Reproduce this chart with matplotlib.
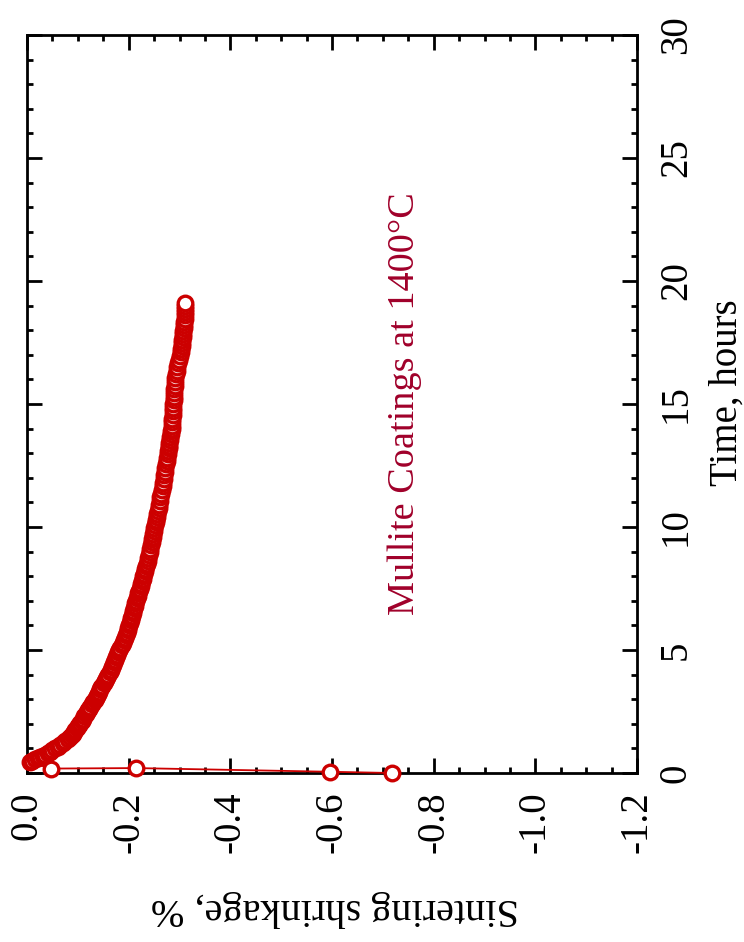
import matplotlib
matplotlib.use("Agg")
import matplotlib.pyplot as plt
from matplotlib.ticker import MultipleLocator, FixedLocator, FixedFormatter

plt.rcParams["font.family"] = ["Liberation Serif", "DejaVu Serif"]
plt.rcParams["axes.unicode_minus"] = False

RED = "#cc0000"
TEXT_RED = "#a0002a"

# time (hours) and sintering shrinkage (%)
time_h = [
    0.0, 0.05, 0.2, 0.18,
    0.45, 0.5, 0.55, 0.6, 0.65, 0.7, 0.75, 0.8, 0.85, 0.92, 1.0, 1.07,
    1.14, 1.22, 1.3, 1.38, 1.46, 1.53, 1.6, 1.68, 1.75, 1.82, 1.9, 1.97,
    2.05, 2.12, 2.2, 2.3, 2.4, 2.48, 2.55, 2.62, 2.7, 2.8, 2.9, 2.97,
    3.05, 3.12, 3.2, 3.3, 3.4, 3.48, 3.55, 3.65, 3.75, 3.82, 3.9, 4.0,
    4.1, 4.2, 4.3, 4.4, 4.5, 4.6, 4.7, 4.8, 4.9, 5.0, 5.1, 5.2, 5.3,
    5.4, 5.5, 5.6, 5.7, 5.8, 5.9, 6.0, 6.1, 6.2, 6.3, 6.4, 6.5, 6.6,
    6.7, 6.8, 6.9, 7.0, 7.1, 7.2, 7.3, 7.4, 7.5, 7.6, 7.7, 7.8, 7.9,
    8.0, 8.1, 8.2, 8.3, 8.4, 8.5, 8.62, 8.75, 8.87, 9.0, 9.12, 9.25,
    9.37, 9.5, 9.6, 9.7, 9.82, 9.95, 10.07, 10.2, 10.3, 10.4, 10.52,
    10.65, 10.77, 10.9, 11.05, 11.2, 11.35, 11.5, 11.65, 11.8, 11.95,
    12.1, 12.25, 12.4, 12.55, 12.7, 12.82, 12.95, 13.07, 13.2, 13.3,
    13.4, 13.52, 13.65, 13.77, 13.9, 14.0, 14.1, 14.25, 14.4, 14.55,
    14.7, 14.85, 15.0, 15.15, 15.3, 15.45, 15.6, 15.75, 15.9, 16.05,
    16.2, 16.35, 16.5, 16.65, 16.8, 16.95, 17.1, 17.22, 17.35, 17.47,
    17.6, 17.72, 17.85, 17.97, 18.1, 18.22, 18.35, 18.47, 18.6, 18.72,
    18.85, 18.97, 19.1,
]
shrinkage = [
    -0.718, -0.596, -0.214, -0.047,
    -0.005, -0.010, -0.016, -0.021, -0.026, -0.031, -0.036, -0.041,
    -0.045, -0.050, -0.055, -0.060, -0.065, -0.070, -0.075, -0.080,
    -0.085, -0.088, -0.090, -0.093, -0.095, -0.098, -0.100, -0.103,
    -0.105, -0.108, -0.110, -0.113, -0.116, -0.118, -0.120, -0.122,
    -0.124, -0.127, -0.130, -0.133, -0.135, -0.137, -0.139, -0.142,
    -0.144, -0.146, -0.148, -0.151, -0.153, -0.155, -0.157, -0.160,
    -0.163, -0.165, -0.167, -0.169, -0.171, -0.173, -0.175, -0.177,
    -0.179, -0.181, -0.183, -0.186, -0.188, -0.190, -0.192, -0.194,
    -0.196, -0.198, -0.199, -0.201, -0.202, -0.204, -0.205, -0.207,
    -0.208, -0.209, -0.210, -0.212, -0.213, -0.215, -0.216, -0.218,
    -0.219, -0.221, -0.222, -0.224, -0.225, -0.227, -0.228, -0.229,
    -0.230, -0.232, -0.233, -0.235, -0.236, -0.238, -0.239, -0.240,
    -0.241, -0.242, -0.243, -0.245, -0.246, -0.247, -0.248, -0.249,
    -0.250, -0.252, -0.253, -0.254, -0.255, -0.256, -0.257, -0.259,
    -0.260, -0.261, -0.262, -0.264, -0.265, -0.267, -0.268, -0.269,
    -0.270, -0.271, -0.272, -0.274, -0.275, -0.276, -0.277, -0.278,
    -0.279, -0.280, -0.280, -0.281, -0.282, -0.283, -0.284, -0.285,
    -0.285, -0.286, -0.286, -0.287, -0.287, -0.288, -0.288, -0.289,
    -0.289, -0.290, -0.290, -0.291, -0.291, -0.292, -0.293, -0.295,
    -0.296, -0.298, -0.299, -0.301, -0.302, -0.303, -0.304, -0.305,
    -0.305, -0.306, -0.306, -0.307, -0.308, -0.309, -0.309, -0.310,
    -0.310, -0.311, -0.311, -0.311, -0.311,
]

shrink_ticks = [0.0, -0.2, -0.4, -0.6, -0.8, -1.0, -1.2]
shrink_labels = ["0.0", "-0.2", "-0.4", "-0.6", "-0.8", "-1.0", "-1.2"]
time_ticks = [0, 5, 10, 15, 20, 25, 30]

fig = plt.figure(figsize=(7.44, 9.42), dpi=100)
ax = fig.add_axes([27 / 744, 1 - 773 / 942, 610 / 744, 738 / 942])

ax.plot(shrinkage, time_h, color=RED, lw=1.3, marker="o", ms=10.5,
        mfc="white", mec=RED, mew=2.4, zorder=3, clip_on=False)

ax.set_xlim(0, -1.2)
ax.set_ylim(0, 30)

ax.xaxis.set_major_locator(FixedLocator(shrink_ticks))
ax.xaxis.set_major_formatter(FixedFormatter(shrink_labels))
ax.xaxis.set_minor_locator(MultipleLocator(0.05))
ax.yaxis.set_major_locator(FixedLocator(time_ticks))
ax.yaxis.set_minor_locator(MultipleLocator(1))

for s in ax.spines.values():
    s.set_linewidth(2.0)

ax.tick_params(which="both", direction="in", top=True, bottom=True,
               left=True, right=True, width=2.0,
               labelleft=False, labelright=True, labelbottom=True, labeltop=False)
ax.tick_params(which="major", length=11)
ax.tick_params(which="minor", length=4.5)
ax.tick_params(axis="x", which="major", labelsize=28, labelrotation=90, pad=13)
ax.tick_params(axis="y", which="major", labelsize=28, labelrotation=90, pad=15)
for lab in ax.get_yticklabels():
    lab.set_va("center")

ax.set_xlabel("Sintering shrinkage, %", fontsize=29, rotation=180)
ax.xaxis.label.set_va("center")
ax.xaxis.set_label_coords(0.505, -0.183)

ax.yaxis.set_label_position("right")
ax.set_ylabel("Time, hours", fontsize=28, rotation=90)
ax.yaxis.label.set_ha("center")
ax.yaxis.label.set_va("center")
ax.yaxis.set_label_coords(1.1475, 0.515)

ax.text(-0.743, 15.0, "Mullite Coatings at 1400°C", color=TEXT_RED,
        fontsize=27.5, rotation=90, ha="center", va="center")

fig.savefig("out.png", dpi=100)
